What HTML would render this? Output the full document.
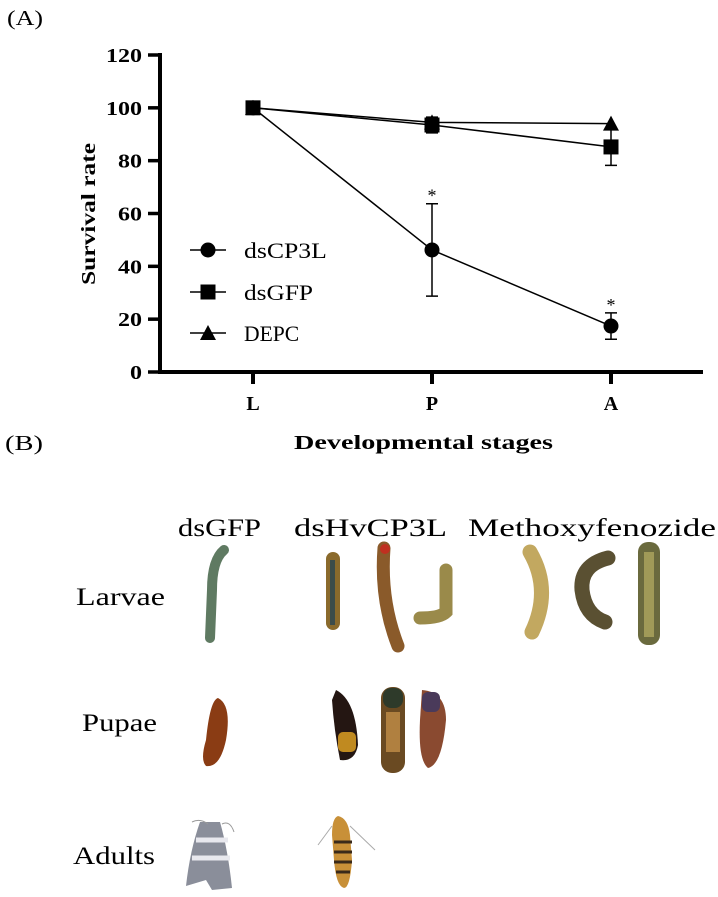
<!DOCTYPE html>
<html><head><meta charset="utf-8"><style>
html,body{margin:0;padding:0;background:#fff;}
svg{display:block;}
text{font-family:"Liberation Serif",serif;fill:#000;}
</style></head><body>
<svg id="fig" width="718" height="897" viewBox="0 0 718 897" xmlns="http://www.w3.org/2000/svg">
<text x="7" y="25" font-size="21" textLength="36" lengthAdjust="spacingAndGlyphs">(A)</text>
<g id="chart"></g>
<text x="5" y="450" font-size="21" textLength="38" lengthAdjust="spacingAndGlyphs">(B)</text>
<text x="294" y="449" font-size="20" font-weight="bold" textLength="259" lengthAdjust="spacingAndGlyphs">Developmental stages</text>
<text x="88" y="214" font-size="20" font-weight="bold" text-anchor="middle" transform="rotate(-90 88 214)" dy="7" textLength="142" lengthAdjust="spacingAndGlyphs">Survival rate</text>

<g>
<text x="178" y="536" font-size="25" textLength="83" lengthAdjust="spacingAndGlyphs">dsGFP</text>
<text x="294" y="536" font-size="25" textLength="153" lengthAdjust="spacingAndGlyphs">dsHvCP3L</text>
<text x="468" y="536" font-size="25" textLength="248" lengthAdjust="spacingAndGlyphs">Methoxyfenozide</text>
<text x="76" y="605" font-size="25" textLength="89" lengthAdjust="spacingAndGlyphs">Larvae</text>
<text x="82" y="731" font-size="25" textLength="75" lengthAdjust="spacingAndGlyphs">Pupae</text>
<text x="73" y="864" font-size="25" textLength="82" lengthAdjust="spacingAndGlyphs">Adults</text>

<g><path d="M224 550 Q212 560 212 590 L210 638" stroke="#5f7a62" stroke-width="10" fill="none" stroke-linecap="round"/></g>
<g><rect x="326" y="552" width="14" height="78" rx="7" fill="#8a6a2c"/><rect x="330" y="560" width="5" height="65" fill="#3c4c4a"/></g>
<g><path d="M384 548 Q380 600 398 646" stroke="#8a5a2a" stroke-width="13" fill="none" stroke-linecap="round"/><circle cx="385" cy="549" r="5" fill="#c03020"/></g>
<g><path d="M446 570 L446 612 Q440 618 420 618" stroke="#9a8a4a" stroke-width="13" fill="none" stroke-linecap="round"/></g>
<g><path d="M530 552 Q552 590 532 632" stroke="#c2a860" stroke-width="15" fill="none" stroke-linecap="round"/></g>
<g><path d="M608 558 Q580 565 582 590 Q585 615 605 622" stroke="#5a5032" stroke-width="15" fill="none" stroke-linecap="round"/></g>
<g><rect x="638" y="542" width="22" height="103" rx="10" fill="#6a6a3e"/><rect x="644" y="552" width="10" height="85" fill="#a09a58"/></g>

<g><path d="M218 698 Q232 705 226 740 Q220 768 206 766 Q200 760 206 740 Q210 700 218 698Z" fill="#8a3c14"/></g>
<g><path d="M336 690 Q356 700 358 745 Q355 762 340 760 Q334 730 332 700Z" fill="#241612"/><rect x="338" y="732" width="18" height="20" fill="#c08a20" rx="5"/></g>
<g><rect x="381" y="687" width="24" height="86" rx="11" fill="#6a4a22"/><rect x="383" y="688" width="20" height="20" rx="8" fill="#2e3a2a"/><rect x="386" y="712" width="14" height="40" fill="#b08040"/></g>
<g><path d="M422 690 Q446 692 446 720 Q442 765 428 768 Q418 760 420 720Z" fill="#8a4a30"/><rect x="422" y="692" width="18" height="20" fill="#4a3a5a" rx="6"/></g>

<g><path d="M200 822 Q190 850 186 886 L206 880 L212 890 L232 888 Q228 850 220 822Z" fill="#8a8e9a"/><path d="M196 840 L228 840 M192 858 L230 858" stroke="#e8e8ee" stroke-width="5"/><path d="M192 822 Q200 818 208 824 M222 824 Q230 820 234 832" stroke="#999" fill="none"/></g>
<g><path d="M338 816 Q348 818 350 835 L352 860 Q350 888 344 888 Q336 886 334 860 L332 835 Q332 818 338 816Z" fill="#c89038"/><path d="M334 842 L352 842 M334 852 L352 852 M334 862 L352 862 M336 872 L350 872" stroke="#3a2a1a" stroke-width="3"/><path d="M332 826 L318 845 M350 826 L375 850" stroke="#aaa" fill="none"/></g>
</g>
</svg>
<script>
var categories = ["L", "P", "A"];
var yTicks = [0, 20, 40, 60, 80, 100, 120];
var seriesNames = ["dsCP3L", "dsGFP", "DEPC"];
var dsCP3L = [100, 46.2, 17.4];
var dsCP3LErr = [0, 17.5, 5];
var dsGFP = [100, 93.5, 85.2];
var dsGFPErr = [0, 3, 7];
var DEPC = [100, 94.5, 94];
var DEPCErr = [0, 0, 0];
var signif = [false, true, true];

var NS = "http://www.w3.org/2000/svg";
var g = document.getElementById("chart");
var X0 = 160, XEND = 703, Y0 = 372, YTOP = 55;
function yS(v){ return Y0 - (v - 0) / 120 * (Y0 - YTOP); }
var catX0 = 253, catX1 = 611;
function xS(i){ return catX0 + i * (catX1 - catX0) / (categories.length - 1); }
function mk(tag, attrs, parent){
  var e = document.createElementNS(NS, tag);
  for (var k in attrs) e.setAttribute(k, attrs[k]);
  (parent || g).appendChild(e);
  return e;
}
var ax = mk("path", {d:"M"+X0+" "+(YTOP-2)+" L"+X0+" "+Y0+" L"+XEND+" "+Y0, stroke:"#000", "stroke-width":4, fill:"none"});


yTicks.forEach(function(t){
  var y = yS(t);
  var tk = mk("line", {x1:148, x2:X0, y1:y, y2:y, stroke:"#000", "stroke-width":3.5});
  
  
  var s = String(t);
  var tx = mk("text", {x:142, y:y+7, "font-size":20, "font-weight":"bold", "text-anchor":"end", textLength: s.length*12, lengthAdjust:"spacingAndGlyphs"});
  tx.textContent = s;
  
  
});
categories.forEach(function(c, i){
  var x = xS(i);
  var tk = mk("line", {x1:x, x2:x, y1:Y0, y2:Y0+12, stroke:"#000", "stroke-width":4});
  
  
  var tx = mk("text", {x:x, y:410, "font-size":20, "font-weight":"bold", "text-anchor":"middle"});
  tx.textContent = c;
  
  
});
function marker(type, x, y, parent){
  var m;
  if (type === 0) m = mk("circle", {cx:x, cy:y, r:7.5, fill:"#000"}, parent);
  else if (type === 1) m = mk("rect", {x:x-7.5, y:y-7.5, width:15, height:15, fill:"#000"}, parent);
  else m = mk("path", {d:"M"+x+" "+(y-8)+" L"+(x+8)+" "+(y+7)+" L"+(x-8)+" "+(y+7)+"Z", fill:"#000"}, parent);
  return m;
}
var allSeries = [[dsCP3L, dsCP3LErr], [dsGFP, dsGFPErr], [DEPC, DEPCErr]];
allSeries.forEach(function(s, si){
  var vals = s[0], errs = s[1];
  var sg = mk("g", {});
  
  
  var d = vals.map(function(v, i){ return (i ? "L" : "M") + xS(i) + " " + yS(v); }).join(" ");
  var ln = mk("path", {d:d, stroke:"#000", "stroke-width":1.5, fill:"none"}, sg);
  
  
  vals.forEach(function(v, i){
    var x = xS(i);
    if (errs[i] > 0) {
      var e = mk("path", {d:"M"+x+" "+yS(v+errs[i])+" L"+x+" "+yS(v-errs[i])+" M"+(x-6)+" "+yS(v+errs[i])+" L"+(x+6)+" "+yS(v+errs[i])+" M"+(x-6)+" "+yS(v-errs[i])+" L"+(x+6)+" "+yS(v-errs[i]), stroke:"#000", "stroke-width":1.5, fill:"none"}, sg);
      
      
    }
    var m = marker(si, x, yS(v), sg);
    
    
    if (si === 0 && signif[i]) {
      var st = mk("text", {x:x, y:yS(v+errs[i])-2, "font-size":18, "text-anchor":"middle"}, sg);
      st.textContent = "*";
      
      
    }
  });
});
var legY = [250, 292, 333];
seriesNames.forEach(function(n, i){
  var lg = mk("g", {});
  
  
  mk("line", {x1:190, x2:226, y1:legY[i], y2:legY[i], stroke:"#000", "stroke-width":1.5}, lg);
  marker(i, 208, legY[i], lg);
  var t = mk("text", {x:244, y:legY[i]+8, "font-size":22, textLength: n.length*13.8, lengthAdjust:"spacingAndGlyphs"}, lg);
  t.textContent = n;
});
</script>
</body></html>
